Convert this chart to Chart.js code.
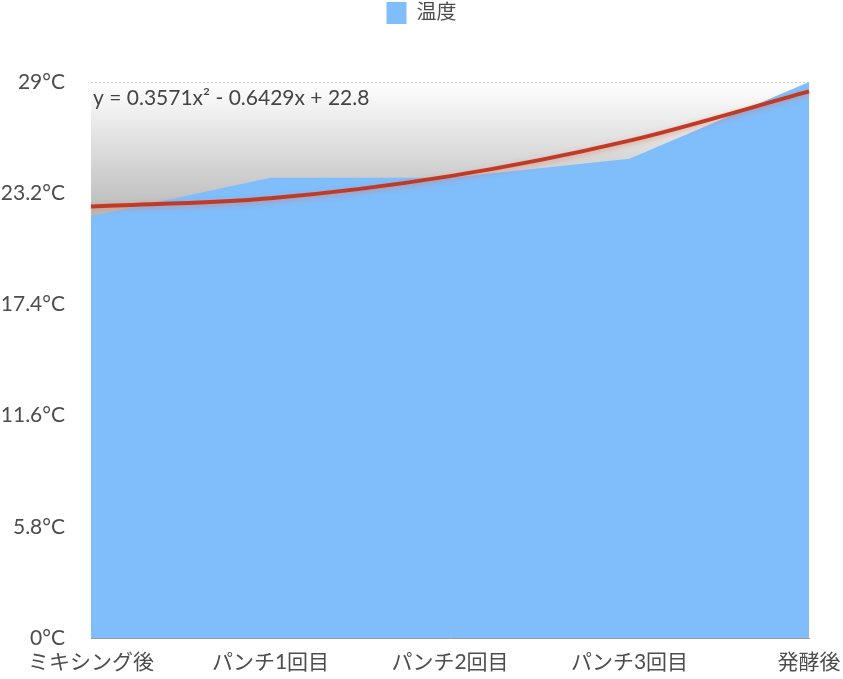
<!DOCTYPE html>
<html>
<head>
<meta charset="utf-8">
<script src="https://cdn.jsdelivr.net/npm/chart.js@4/dist/chart.umd.min.js"></script>
<style>
  html, body { margin: 0; padding: 0; background: #fff; }
  #wrap { width: 843px; height: 679px; }
</style>
</head>
<body>
<div id="wrap"><canvas id="tempChart"></canvas></div>
<script>
// 温度の推移
const categories = ["ミキシング後", "パンチ1回目", "パンチ2回目", "パンチ3回目", "発酵後"];
const temperatures = [22, 24, 24, 25, 29];
// trendline values at each step
const trendValues = [22.51, 22.94, 24.09, 25.94, 28.51];
const yTicks = [0, 5.8, 11.6, 17.4, 23.2, 29];
const trendLabel = "y = 0.3571x² - 0.6429x + 22.8";

const FONT = "Lato, 'Noto Sans CJK JP', sans-serif";
const TEXT = "#4d4d4d";

// gray gradient behind the plot
const bgGradient = {
  id: "bgGradient",
  beforeDatasetsDraw(chart) {
    const { ctx, chartArea } = chart;
    const y = chart.scales.y;
    const g = ctx.createLinearGradient(0, chartArea.top, 0, y.getPixelForValue(22));
    g.addColorStop(0, "rgba(255,255,255,1)");
    g.addColorStop(1, "rgba(185,185,185,1)");
    ctx.save();
    ctx.fillStyle = g;
    ctx.fillRect(chartArea.left, chartArea.top + 1, chartArea.right - chartArea.left, y.getPixelForValue(20) - chartArea.top);
    ctx.restore();
  },
};

// shadow under the trend line
const lineShadow = {
  id: "lineShadow",
  beforeDatasetDraw(chart, args) {
    if (args.index !== 1) return;
    const ctx = chart.ctx;
    ctx.save();
    ctx.shadowColor = "rgba(230,120,90,0.5)";
    ctx.shadowBlur = 5;
    ctx.shadowOffsetY = 2;
  },
  afterDatasetDraw(chart, args) {
    if (args.index !== 1) return;
    chart.ctx.restore();
  },
};

const equationText = {
  id: "equationText",
  afterDatasetsDraw(chart) {
    const { ctx, chartArea } = chart;
    ctx.save();
    ctx.font = "21px " + FONT;
    ctx.fillStyle = "#444";
    ctx.textBaseline = "middle";
    ctx.fillText(trendLabel, chartArea.left + 2, chartArea.top + 16);
    ctx.restore();
  },
};

const legendSpace = {
  id: "legendSpace",
  beforeInit(chart) {
    const fit = chart.legend.fit;
    chart.legend.fit = function () {
      fit.bind(chart.legend)();
      this.height += 48;
    };
  },
};

new Chart(document.getElementById("tempChart"), {
  type: "line",
  data: {
    labels: categories,
    datasets: [
      {
        label: "温度",
        data: temperatures,
        backgroundColor: "#80bdfb",
        borderColor: "#80bdfb",
        borderWidth: 0,
        pointRadius: 0,
        fill: "origin",
        tension: 0,
        order: 2,
      },
      {
        label: "trend",
        data: trendValues,
        borderColor: "#c13a25",
        borderWidth: 4,
        pointRadius: 0,
        fill: false,
        cubicInterpolationMode: "monotone",
        order: 1,
      },
    ],
  },
  options: {
    responsive: true,
    maintainAspectRatio: false,
    animation: false,
    layout: { padding: 0 },
    plugins: {
      legend: {
        display: true,
        position: "top",
        labels: {
          boxWidth: 20,
          boxHeight: 22,
          padding: 2,
          color: TEXT,
          font: { family: FONT, size: 20 },
          filter: (item) => item.datasetIndex === 0,
        },
      },
      tooltip: { enabled: false },
    },
    scales: {
      x: {
        offset: false,
        grid: { display: false, drawTicks: false },
        border: { color: "#9a9a9a", width: 1 },
        afterFit: (axis) => {
          axis.height = 41;
          axis.paddingRight = 34;
        },
        ticks: {
          color: TEXT,
          font: { family: FONT, size: 21 },
          padding: 12,
          maxRotation: 0,
          autoSkip: false,
        },
      },
      y: {
        min: 0,
        max: 29,
        afterBuildTicks: (axis) => {
          axis.ticks = yTicks.map((v) => ({ value: v }));
        },
        afterFit: (axis) => {
          axis.width = 91;
        },
        grid: {
          color: "#c8c8c8",
          drawTicks: false,
        },
        border: { display: false, dash: [2, 2] },
        ticks: {
          color: TEXT,
          font: { family: FONT, size: 21 },
          padding: 26,
          callback: (v) => v + "°C",
        },
      },
    },
  },
  plugins: [legendSpace, bgGradient, lineShadow, equationText],
});
</script>
</body>
</html>
